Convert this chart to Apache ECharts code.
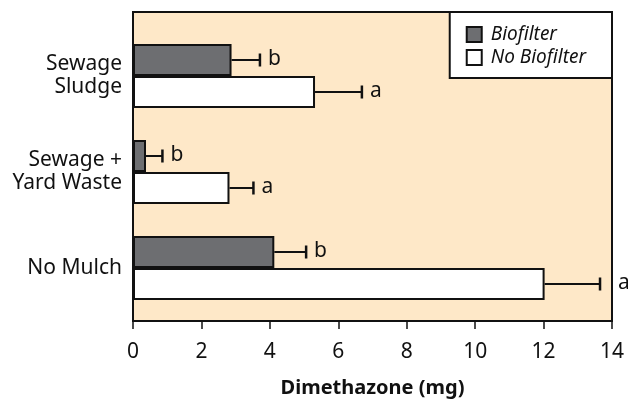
<!DOCTYPE html>
<html><head><meta charset="utf-8">
<script src="https://cdn.jsdelivr.net/npm/echarts@6/dist/echarts.min.js"></script>
<style>html,body{margin:0;padding:0;background:#fff}#c{width:628px;height:403px}</style>
</head><body><div id="c"></div>
<script>
var categories = ['No Mulch', 'Sewage +\nYard Waste', 'Sewage\nSludge'];
var biofilter = [4.13, 0.38, 2.88];
var biofilterErr = [0.93, 0.48, 0.83];
var biofilterLetters = ['b', 'b', 'b'];
var noBiofilter = [12.03, 2.82, 5.32];
var noBiofilterErr = [1.62, 0.70, 1.37];
var noBiofilterLetters = ['a', 'a', 'a'];
var xTicks = [0, 2, 4, 6, 8, 10, 12, 14];

var FONT = 'Noto Sans';
var chart = echarts.init(document.getElementById('c'), null, {renderer: 'canvas'});
var L = 133, R = 16;

function errSeries(name, vals, errs, letters, offsetSign) {
  return {
    type: 'custom', name: name + ' err', xAxisIndex: 1, yAxisIndex: 1, clip: false, z: 5,
    data: vals.map(function (v, i) { return [v, i, v + errs[i], letters[i]]; }),
    renderItem: function (params, api) {
      var ci = api.value(1);
      var p0 = api.coord([api.value(0), ci]);
      var p1 = api.coord([api.value(2), ci]);
      var y = p0[1] + offsetSign * 16;
      var capH = 13;
      var tx = p1[0] + 8;
      var frameRight = 628 - R;
      if (tx + 10 > frameRight) tx = frameRight + 6;
      return {
        type: 'group', children: [
          {type: 'line', shape: {x1: p0[0], y1: y, x2: p1[0], y2: y}, style: {stroke: '#111', lineWidth: 2}},
          {type: 'line', shape: {x1: p1[0], y1: y - capH / 2, x2: p1[0], y2: y + capH / 2}, style: {stroke: '#111', lineWidth: 2.5}},
          {type: 'text', x: tx, y: y - 1, style: {text: api.value(3), fill: '#111', font: '21px "' + FONT + '"', verticalAlign: 'middle', align: 'left'}}
        ]
      };
    }
  };
}

chart.setOption({
  animation: false,
  backgroundColor: '#ffffff',
  legend: {
    data: ['Biofilter', 'No Biofilter'],
    orient: 'vertical', right: R, top: 12,
    backgroundColor: '#ffffff', borderColor: '#111', borderWidth: 2,
    padding: [13, 26, 11, 16],
    icon: 'rect',
    itemWidth: 15, itemHeight: 15, itemGap: 4,
    textStyle: {fontFamily: FONT, fontStyle: 'italic', fontSize: 19, color: '#111', padding: [0, 0, 0, 4]},
    itemStyle: {borderColor: '#111', borderWidth: 2}
  },
  grid: [
    {left: L, right: R, top: 12, bottom: 72, show: true, backgroundColor: '#FEE8C8', borderColor: '#111', borderWidth: 2, z: 0},
    {left: L, right: R, top: 28, bottom: 87}
  ],
  xAxis: [
    {gridIndex: 0, type: 'value', min: 0, max: 14, interval: 2,
     name: 'Dimethazone (mg)', nameLocation: 'middle', nameGap: 57,
     nameTextStyle: {fontFamily: FONT, fontWeight: 'bold', fontSize: 20, color: '#111'},
     axisLine: {show: true, lineStyle: {color: '#111', width: 2}},
     axisTick: {show: true, length: 8, lineStyle: {color: '#111', width: 1.5}},
     axisLabel: {fontFamily: FONT, fontSize: 21, color: '#111', margin: 21,
       formatter: function (v) { return xTicks.indexOf(v) >= 0 ? String(v) : ''; }},
     splitLine: {show: false}},
    {gridIndex: 1, type: 'value', min: 0, max: 14, show: false}
  ],
  yAxis: [
    {gridIndex: 0, type: 'value', show: false},
    {gridIndex: 1, type: 'category', data: categories,
     axisLine: {show: false}, axisTick: {show: false},
     axisLabel: {fontFamily: FONT, fontSize: 21, color: '#111', margin: 11, lineHeight: 23}}
  ],
  series: [
    {type: 'bar', name: 'Biofilter', xAxisIndex: 1, yAxisIndex: 1, data: biofilter,
     barWidth: 32, barGap: '0%', z: 3,
     itemStyle: {color: '#6D6E71', borderColor: '#111', borderWidth: 2}},
    {type: 'bar', name: 'No Biofilter', xAxisIndex: 1, yAxisIndex: 1, data: noBiofilter,
     barWidth: 32, barGap: '0%', z: 3,
     itemStyle: {color: '#ffffff', borderColor: '#111', borderWidth: 2}},
    errSeries('Biofilter', biofilter, biofilterErr, biofilterLetters, -1),
    errSeries('No Biofilter', noBiofilter, noBiofilterErr, noBiofilterLetters, 1)
  ]
});
</script></body></html>
